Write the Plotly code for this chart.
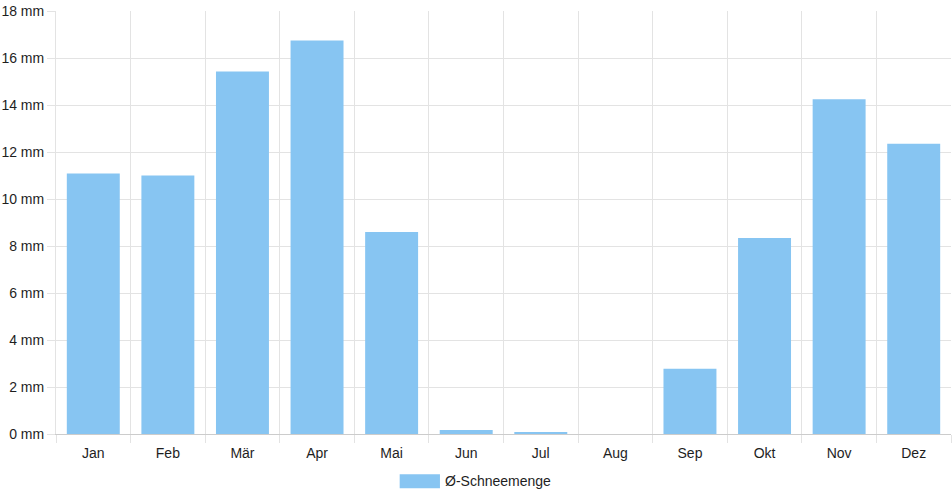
import plotly.graph_objects as go

months = ["Jan", "Feb", "Mär", "Apr", "Mai", "Jun", "Jul", "Aug", "Sep", "Okt", "Nov", "Dez"]
snow_mm = [11.09, 11.0, 15.43, 16.74, 8.6, 0.17, 0.05, 0.0, 2.78, 8.34, 14.24, 12.35]
series_name = "Ø-Schneemenge"
bar_color = "rgb(135,197,242)"
grid_color = "#e3e3e3"
text_color = "#1e1e1e"

fig = go.Figure()
fig.add_trace(go.Bar(x=months, y=snow_mm, name=series_name, marker_color=bar_color,
                     marker_line_width=0, showlegend=False))

# legend drawn by hand: wide swatch like the original
fig.add_shape(type="rect", xref="paper", yref="paper", x0=0.384, x1=0.429, y0=-0.128, y1=-0.095,
              fillcolor=bar_color, line_width=0)
fig.add_annotation(text=series_name, xref="paper", yref="paper", x=0.432, y=-0.111,
                   xanchor="left", yanchor="middle", showarrow=False,
                   font=dict(size=14, color=text_color))

fig.update_layout(
    width=952, height=500,
    margin=dict(l=56, r=1, t=11, b=66),
    plot_bgcolor="white", paper_bgcolor="white",
    font=dict(family="Liberation Sans, Arial, sans-serif", size=14, color=text_color),
    bargap=0.29,
)
fig.update_xaxes(tickson="boundaries", ticks="outside", ticklen=8, tickcolor=grid_color,
                 ticklabelstandoff=6,
                 showgrid=True, gridcolor=grid_color, showline=True, linecolor="#cccccc",
                 mirror=False)
fig.update_yaxes(range=[0, 18], dtick=2, ticksuffix=" mm", ticks="outside", ticklen=8,
                 tickcolor=grid_color, showgrid=True, gridcolor=grid_color, zeroline=False,
                 showline=True, linecolor=grid_color)

# page has a default body margin; drop it so the figure sits at the window corner
fig.write_html("out.html", config={"displayModeBar": False},
               post_script="document.body.style.margin='0';")
